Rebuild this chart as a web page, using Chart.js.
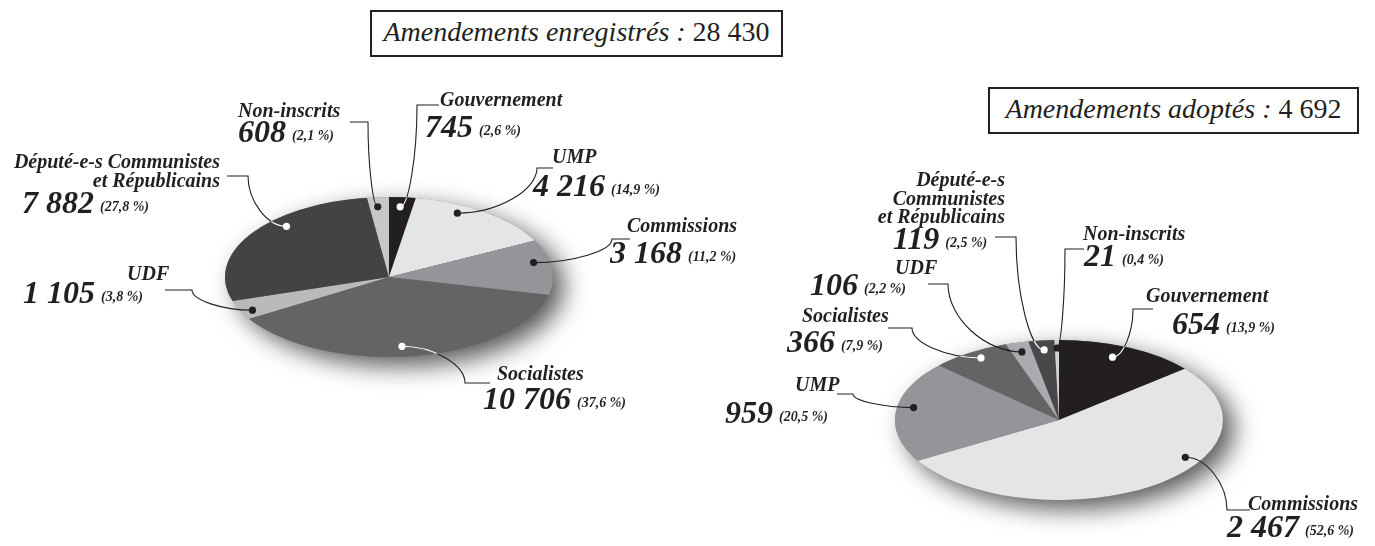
<!DOCTYPE html>
<html>
<head>
<meta charset="utf-8">
<script src="https://cdn.jsdelivr.net/npm/chart.js@4"></script>
<style>
  body { margin:0; background:#fff; }
  #wrap { position:relative; width:1375px; height:546px; overflow:hidden; }
  canvas { position:absolute; left:0; top:0; }
  .title { position:absolute; box-sizing:border-box; border:2.5px solid #231f20; background:#fff;
           font-family:'Liberation Serif', serif; font-style:italic; font-size:28px; color:#231f20;
           text-align:center; line-height:40px; white-space:nowrap; }
  .title span { font-style:normal; }
</style>
</head>
<body>
<div id="wrap">
  <canvas id="leftChart" width="1375" height="546"></canvas>
  <canvas id="rightChart" width="1375" height="546"></canvas>
  <div class="title" id="leftTitle" style="left:370px; top:10px; width:413px; height:47px;"></div>
  <div class="title" id="rightTitle" style="left:988px; top:87px; width:371px; height:47px;"></div>
</div>
<script>
// data
const leftLabels = ['Gouvernement', 'UMP', 'Commissions', 'Socialistes', 'UDF', 'Député-e-s Communistes et Républicains', 'Non-inscrits'];
const leftValues = [745, 4216, 3168, 10706, 1105, 7882, 608];
const leftPct = ['2,6', '14,9', '11,2', '37,6', '3,8', '27,8', '2,1'];

const rightLabels = ['Gouvernement', 'Commissions', 'UMP', 'Socialistes', 'UDF', 'Député-e-s Communistes et Républicains', 'Non-inscrits'];
const rightValues = [654, 2467, 959, 366, 106, 119, 21];
const rightPct = ['13,9', '52,6', '20,5', '7,9', '2,2', '2,5', '0,4'];

// styles
const leftColors = ['#231f20', '#e4e5e6', '#939598', '#636466', '#b9babc', '#434345', '#c6c7c9'];
const rightColors = ['#231f20', '#e4e5e6', '#939598', '#636466', '#a9abae', '#48484a', '#d0d1d2'];

function fmt(n){
    return n.toString().replace(/\B(?=(\d{3})+(?!\d))/g, ' ');
}

// label layout: name lines, name pos, number pos, leader [endX,endY,cornerX,cornerY], dot [angleFrac, radiusFrac, white]
const leftLayout = {
    sx: 164/80,
    items: [
        { name:['Gouvernement'], nx:440, ny:106, align:'left', vx:425, vy:137, lead:[439,105,417,105], dot:[0.47,0.88,true] },
        { name:['UMP'], nx:552, ny:163, align:'left', vx:533, vy:196, lead:[553,168,537,168], dot:[0.34,0.90,false] },
        { name:['Commissions'], nx:627, ny:232, align:'left', vx:610, vy:263, lead:[630,239,612,239], dot:[0.39,0.90,false] },
        { name:['Socialistes'], nx:497, ny:380, align:'left', vx:483, vy:409, lead:[490,383,465,383], dot:[0.53,0.87,true] },
        { name:['UDF'], nx:127, ny:280, align:'left', vx:23, vy:303, lead:[165,290,192,290], dot:[0.36,0.93,false] },
        { name:['Député-e-s Communistes', 'et Républicains'], nx:220, ny:168, align:'right', vx:22, vy:213, lead:[227,176,248,176], dot:[0.63,0.89,true] },
        { name:['Non-inscrits'], nx:238, ny:117, align:'left', vx:238, vy:142, lead:[350,122,368,122], dot:[0.42,0.88,false] }
    ]
};

const rightLayout = {
    sx: 164/80,
    items: [
        { name:['Gouvernement'], nx:1146, ny:302, align:'left', vx:1172, vy:334, lead:[1153,309,1133,309], dot:[0.45,0.85,true] },
        { name:['Commissions'], nx:1248, ny:510, align:'left', vx:1227, vy:537, lead:[1250,510,1227,510], dot:[0.375,0.90,false] },
        { name:['UMP'], nx:795, ny:391, align:'left', vx:725, vy:423, lead:[837,394,853,394], dot:[0.55,0.9,false] },
        { name:['Socialistes'], nx:802, ny:322, align:'left', vx:787, vy:352, lead:[888,328,912,328], dot:[0.55,0.91,true] },
        { name:['UDF'], nx:895, ny:274, align:'left', vx:810, vy:295, lead:[928,284,948,284], dot:[0.49,0.88,false] },
        { name:['Député-e-s', 'Communistes', 'et Républicains'], nx:1005, ny:186, align:'right', vx:893, vy:249, lead:[995,237,1016,237], dot:[0.53,0.88,true] },
        { name:['Non-inscrits'], nx:1083, ny:240, align:'left', vx:1084, vy:266, lead:[1084,249,1065,249], dot:[0.5,0.9,false] }
    ]
};

const SERIF = "'Liberation Serif', 'DejaVu Serif', serif";

// squash the pie into an ellipse + shadow + labels
const ellipsePie = {
    id: 'ellipsePie',
    beforeDatasetsDraw(chart, args, opts){
        const ctx = chart.ctx;
        const a = chart.getDatasetMeta(0).data[0];
        const cx = a.x, cy = a.y, r = a.outerRadius;
        ctx.save();
        ctx.shadowColor = 'rgba(0,0,0,0.65)';
        ctx.shadowBlur = 24;
        ctx.shadowOffsetX = 11;
        ctx.shadowOffsetY = 9;
        ctx.fillStyle = '#777';
        ctx.beginPath();
        ctx.ellipse(cx, cy, r*opts.sx, r, 0, 0, Math.PI*2);
        ctx.fill();
        ctx.restore();
        ctx.save();
        ctx.translate(cx, cy);
        ctx.scale(opts.sx, 1);
        ctx.translate(-cx, -cy);
    },
    afterDatasetsDraw(chart){
        chart.ctx.restore();
    },
    afterDraw(chart, args, opts){
        const ctx = chart.ctx;
        const meta = chart.getDatasetMeta(0);
        const values = chart.data.datasets[0].data;
        const a0 = meta.data[0];
        const cx = a0.x, cy = a0.y, r = a0.outerRadius;

        opts.items.forEach((it, i) => {
            const arc = meta.data[i];
            const ang = arc.startAngle + it.dot[0]*(arc.endAngle - arc.startAngle);
            const px = arc.x + Math.cos(ang)*arc.outerRadius*it.dot[1]*opts.sx;
            const py = arc.y + Math.sin(ang)*arc.outerRadius*it.dot[1];
            const [ex, ey, kx, ky] = it.lead;

            const path = () => {
                ctx.beginPath();
                ctx.moveTo(ex, ey);
                ctx.lineTo(kx, ky);
                ctx.bezierCurveTo(kx, (ky+py)/2, (kx+px)/2, py, px, py);
            };
            ctx.save();
            ctx.lineWidth = 1.1;
            ctx.strokeStyle = '#231f20';
            path(); ctx.stroke();
            if(it.dot[2]){
                // white inside dark slices
                ctx.beginPath();
                ctx.ellipse(cx, cy, r*opts.sx, r, 0, 0, Math.PI*2);
                ctx.clip();
                ctx.strokeStyle = '#fff';
                path(); ctx.stroke();
            }
            ctx.restore();

            ctx.beginPath();
            ctx.arc(px, py, 3.6, 0, Math.PI*2);
            ctx.fillStyle = it.dot[2] ? '#fff' : '#231f20';
            ctx.fill();

            // text
            ctx.fillStyle = '#231f20';
            ctx.textBaseline = 'alphabetic';
            ctx.font = 'italic bold 20px ' + SERIF;
            ctx.textAlign = it.align;
            it.name.forEach((line, j) => ctx.fillText(line, it.nx, it.ny + j*18.5));

            ctx.textAlign = 'left';
            ctx.font = 'italic bold 32px ' + SERIF;
            const num = fmt(values[i]);
            ctx.fillText(num, it.vx, it.vy);
            const w = ctx.measureText(num).width;
            ctx.font = 'italic bold 14px ' + SERIF;
            ctx.fillText('(' + opts.pct[i] + ' %)', it.vx + w + 6, it.vy - 2);
        });
    }
};

function makePie(id, labels, values, colors, pct, layout, pad){
    return new Chart(document.getElementById(id), {
        type: 'pie',
        data: {
            labels: labels,
            datasets: [{ data: values, backgroundColor: colors, borderWidth: 0, hoverOffset: 0 }]
        },
        options: {
            responsive: false,
            animation: false,
            layout: { padding: pad },
            plugins: {
                legend: { display: false },
                tooltip: { enabled: false },
                ellipsePie: { sx: layout.sx, items: layout.items, pct: pct }
            }
        },
        plugins: [ellipsePie]
    });
}

window.onload = function(){
    // chart area = 2*ry high, 2*rx wide -> radius ry, then stretched in x
    makePie('leftChart', leftLabels, leftValues, leftColors, leftPct, leftLayout,
        { left:225, right:1375-553, top:197, bottom:546-357 });
    makePie('rightChart', rightLabels, rightValues, rightColors, rightPct, rightLayout,
        { left:895, right:1375-1223, top:340, bottom:546-500 });

    const sum = arr => arr.reduce((s, v) => s + v, 0);
    document.getElementById('leftTitle').innerHTML = 'Amendements enregistrés : <span>' + fmt(sum(leftValues)) + '</span>';
    document.getElementById('rightTitle').innerHTML = 'Amendements adoptés : <span>' + fmt(sum(rightValues)) + '</span>';
};
</script>
</body>
</html>
